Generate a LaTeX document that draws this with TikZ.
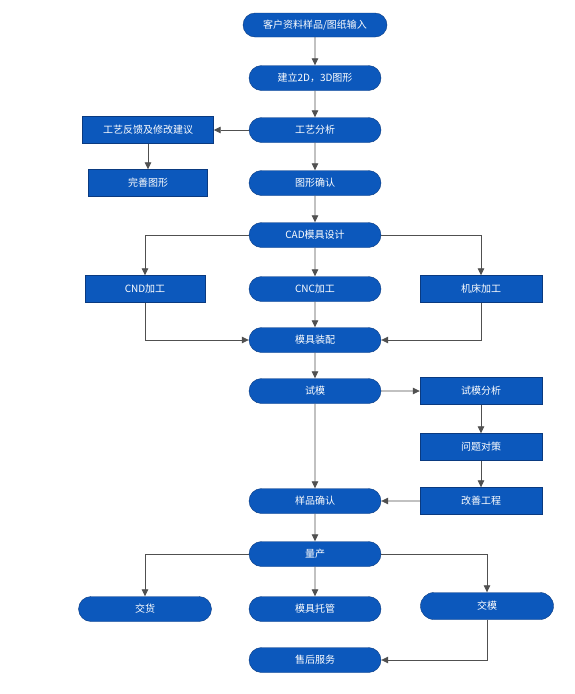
\documentclass[tikz,border=0pt]{standalone}
\usepackage{fontspec}
\newfontfamily\cjk{Noto Sans CJK SC}
\usetikzlibrary{shapes.misc,arrows.meta}
\definecolor{boxblue}{RGB}{12,88,188}
\definecolor{boxedge}{RGB}{10,58,128}
\definecolor{linegray}{RGB}{80,80,80}
\begin{document}
\begin{tikzpicture}[x=1pt,y=-1pt,font=\cjk\fontsize{10}{12}\selectfont]
            %
            % `pill' is used for the rounded process steps.
            % `block' is used for the square side steps.
            % `flow' is used for all the connectors.
            \tikzstyle{pill} = [rounded rectangle,draw=boxedge,fill=boxblue,text=white,minimum width=134pt,minimum height=25pt,inner sep=1pt]
            \tikzstyle{block} = [rectangle,draw=boxedge,fill=boxblue,text=white,minimum height=27pt,inner sep=1pt]
            \tikzstyle{flow} = [draw=linegray,thick,-{Triangle[length=7pt,width=6.5pt]}]
            \useasboundingbox (0,0) rectangle (575,694);
            %
            % Main column
            \node[pill,minimum width=146pt,minimum height=24pt] (input) at (315,25) {客户资料样品/图纸输入};
            \node[pill] (model) at (315,78) {建立2D，3D图形};
            \node[pill] (analyse) at (315,130) {工艺分析};
            \node[pill] (confirm) at (315,183) {图形确认};
            \node[pill] (cad) at (315,235) {CAD模具设计};
            \node[pill] (cnc) at (315,289) {CNC加工};
            \node[pill] (assemble) at (315,340) {模具装配};
            \node[pill] (trial) at (315,391) {试模};
            \node[pill] (sample) at (315,501) {样品确认};
            \node[pill] (mass) at (315,554) {量产};
            \node[pill] (keep) at (315,609) {模具托管};
            \node[pill] (service) at (315,660) {售后服务};
            %
            % Left column
            \node[block,minimum width=131pt] (feedback) at (148,130) {工艺反馈及修改建议};
            \node[block,minimum width=119pt] (improve) at (148,183) {完善图形};
            \node[block,minimum width=120pt] (cnd) at (145,289) {CND加工};
            \node[pill,minimum width=135pt] (deliver) at (145,609) {交货};
            %
            % Right column
            \node[block,minimum width=122pt] (lathe) at (481,289) {机床加工};
            \node[block,minimum width=122pt] (trialan) at (481,391) {试模分析};
            \node[block,minimum width=122pt] (problem) at (481,447) {问题对策};
            \node[block,minimum width=122pt] (fix) at (481,501) {改善工程};
            \node[pill,minimum width=135pt,minimum height=27pt] (handover) at (487,606) {交模};
            %
            % Connectors
            \draw[flow] (input) -- (model);
            \draw[flow] (model) -- (analyse);
            \draw[flow] (analyse) -- (feedback);
            \draw[flow] (feedback) -- (improve);
            \draw[flow] (analyse) -- (confirm);
            \draw[flow] (confirm) -- (cad);
            \draw[flow] (cad.west) -| (cnd.north);
            \draw[flow] (cad) -- (cnc);
            \draw[flow] (cad.east) -| (lathe.north);
            \draw[flow] (cnd.south) |- (assemble.west);
            \draw[flow] (cnc) -- (assemble);
            \draw[flow] (lathe.south) |- (assemble.east);
            \draw[flow] (assemble) -- (trial);
            \draw[flow] (trial) -- (trialan);
            \draw[flow] (trialan) -- (problem);
            \draw[flow] (problem) -- (fix);
            \draw[flow] (fix) -- (sample);
            \draw[flow] (trial) -- (sample);
            \draw[flow] (sample) -- (mass);
            \draw[flow] (mass.west) -| (deliver.north);
            \draw[flow] (mass) -- (keep);
            \draw[flow] (mass.east) -| (handover.north);
            \draw[flow] (handover.south) |- (service.east);
\end{tikzpicture}
\end{document}
